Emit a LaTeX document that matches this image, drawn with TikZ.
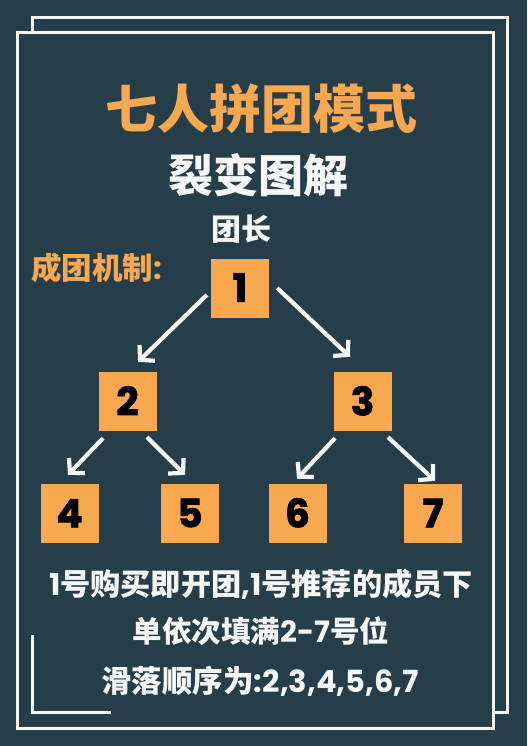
\documentclass[tikz,border=0pt]{standalone}
\usepackage{fontspec}
\usetikzlibrary{arrows.meta,calc}
\newfontfamily\cjkb{Noto Sans CJK SC Black}
\newfontfamily\pop{Poppins Bold}
\newfontfamily\popx{Poppins Bold}[FakeBold=2]
\definecolor{bgc}{HTML}{253E4A}
\definecolor{orng}{HTML}{F8A950}
\definecolor{wht}{HTML}{F5F7F6}
\tikzset{
  x=1pt,y=-1pt,
  frame/.style={draw=wht,line width=3pt},
  numbox/.style={fill=orng,minimum width=58pt,minimum height=59pt,inner sep=0pt,
    font=\popx\fontsize{39}{39}\selectfont,text=black,text height=27.5pt,text depth=0pt},
  arr/.style={draw=wht,line width=4.2pt,line join=miter,
    -{Straight Barb[length=10pt,width=22pt,line join=miter]}},
  lbl/.style={anchor=base,inner sep=0pt}
}
\begin{document}
\begin{tikzpicture}
\useasboundingbox (0,0) rectangle (527,746);
\fill[bgc] (0,0) rectangle (527,746);
% back frame (visible pieces)
\draw[frame] (32,33) -- (32,18) -- (507,18) -- (507,712) -- (493,712);
\draw[frame] (32,635) -- (32,712) -- (111,712);
% front frame
\draw[frame] (17,33) rectangle (493,728);
% titles
\node[lbl,text=orng,font=\cjkb\fontsize{52}{52}\selectfont] (title) at (261.5,128.5) {七人拼团模式};
\node[lbl,text=wht,font=\cjkb\fontsize{45}{45}\selectfont] (sub) at (258.5,192) {裂变图解};
\node[lbl,text=wht,font=\cjkb\fontsize{30}{30}\selectfont] (lead) at (241,240.5) {团长};
\node[lbl,text=orng,font=\cjkb\fontsize{30.5}{30.5}\selectfont,anchor=base west] (mech) at (31,279.5) {成团机制{\pop :}};
% boxes
\node[numbox] (b1) at (240,288) {1};
\node[numbox] (b2) at (127.5,401.5) {2};
\node[numbox] (b3) at (362.5,401.5) {3};
\node[numbox] (b4) at (69.5,513.5) {4};
\node[numbox] (b5) at (190,513.5) {5};
\node[numbox] (b6) at (297.5,513.5) {6};
\node[numbox] (b7) at (433,513.5) {7};
% arrows
\draw[arr] ([shift={(-4,7)}]b1.west) -- ([shift={(10.5,-10)}]b2.north);
\draw[arr] ([shift={(8,0)}]b1.east) -- ([shift={(-12.5,-15)}]b3.north);
\draw[arr] ([shift={(-24.5,7)}]b2.south) -- ([shift={(-1.5,-9)}]b4.north);
\draw[arr] ([shift={(19.5,6)}]b2.south) -- ([shift={(-5,-9)}]b5.north);
\draw[arr] ([shift={(-27.5,7)}]b3.south) -- ([shift={(-0.5,-5)}]b6.north);
\draw[arr] ([shift={(25.5,6)}]b3.south) -- ([shift={(2,-3)}]b7.north);
% bottom text
\node[lbl,text=wht,font=\cjkb\fontsize{30.2}{30.2}\selectfont] (t1) at (261,595) {{\pop 1}号购买即开团{\pop ,1}号推荐的成员下};
\node[lbl,text=wht,font=\cjkb\fontsize{29.5}{29.5}\selectfont] (t2) at (261,642.5) {单依次填满{\pop 2-7}号位};
\node[lbl,text=wht,font=\cjkb\fontsize{30.5}{30.5}\selectfont] (t3) at (260,692) {滑落顺序为{\pop :2,3,4,5,6,7}};
\end{tikzpicture}
\end{document}
